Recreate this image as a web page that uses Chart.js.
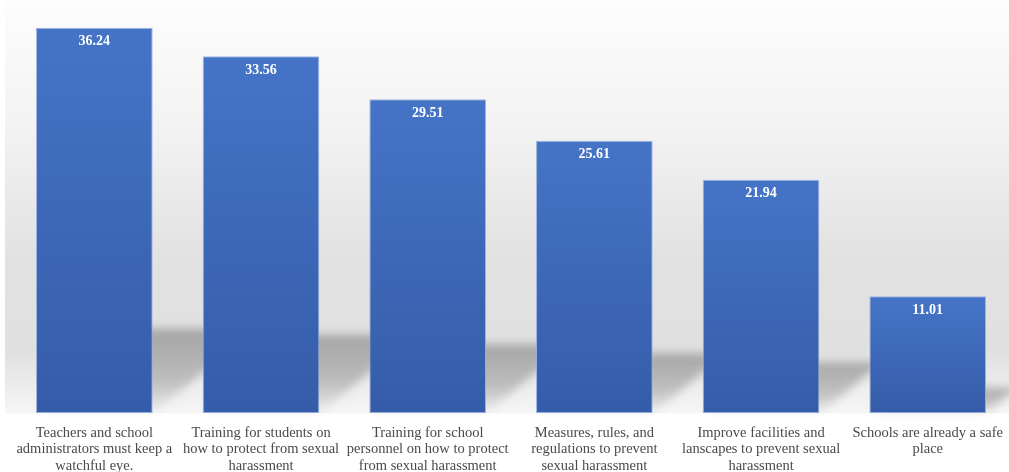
<!DOCTYPE html>
<html>
<head>
<meta charset="utf-8">
<script src="https://cdn.jsdelivr.net/npm/chart.js@4"></script>
<style>
  html, body { margin: 0; padding: 0; background: #fff; overflow: hidden; }
  #wrap { position: absolute; left: 0; top: 0; width: 1015px; height: 486px; }
</style>
</head>
<body>
<div id="wrap"><canvas id="myChart"></canvas></div>
<script>
const categories = [
  "Teachers and school administrators must keep a watchful eye.",
  "Training for students on how to protect from sexual harassment",
  "Training for school personnel on how to protect from sexual harassment",
  "Measures, rules, and regulations to prevent sexual harassment",
  "Improve facilities and lanscapes to prevent sexual harassment",
  "Schools are already a safe place",
];
const values = [36.24, 33.56, 29.51, 25.61, 21.94, 11.01];
const tickLabels = [
  ["Teachers and school", "administrators must keep a", "watchful eye."],
  ["Training for students on", "how to protect from sexual", "harassment"],
  ["Training for school", "personnel on how to protect", "from sexual harassment"],
  ["Measures, rules, and", "regulations to prevent", "sexual harassment"],
  ["Improve facilities and", "lanscapes to prevent sexual", "harassment"],
  ["Schools are already a safe", "place"],
];

const canvasElement = document.getElementById("myChart");

// bar fill, lighter at the top of each bar
const barFill = (context) => {
  const chart = context.chart;
  const area = chart.chartArea;
  if (!area || context.dataIndex === undefined) return "#4472c4";
  const top = chart.scales.y.getPixelForValue(values[context.dataIndex]);
  const g = chart.ctx.createLinearGradient(0, top, 0, area.bottom);
  g.addColorStop(0, "#4574c7");
  g.addColorStop(1, "#355ca8");
  return g;
};

// grey backdrop + slanted floor shadows
const backdrop = {
  id: "backdrop",
  beforeDatasetsDraw(chart) {
    const { ctx, chartArea } = chart;
    ctx.save();
    const bg = ctx.createLinearGradient(0, 0, 0, chartArea.bottom);
    bg.addColorStop(0, "#fdfdfd");
    bg.addColorStop(0.3, "#f3f3f3");
    bg.addColorStop(0.62, "#e2e2e2");
    bg.addColorStop(0.85, "#e0e0e0");
    bg.addColorStop(1, "#f6f6f6");
    ctx.fillStyle = bg;
    ctx.fillRect(5, 0, chart.width, chartArea.bottom);

    ctx.filter = "blur(4px)";
    chart.getDatasetMeta(0).data.forEach((bar) => {
      const xl = bar.x - bar.width / 2;
      const xr = bar.x + bar.width / 2;
      const h = bar.base - bar.y;
      const sh = h * 0.22;
      const dx = h * 0.27;
      const g = ctx.createLinearGradient(0, bar.base - sh, 0, bar.base);
      g.addColorStop(0, "rgba(110,110,110,0.5)");
      g.addColorStop(0.6, "rgba(110,110,110,0.36)");
      g.addColorStop(1, "rgba(110,110,110,0.04)");
      ctx.fillStyle = g;
      ctx.beginPath();
      ctx.moveTo(xl, bar.base);
      ctx.lineTo(xr, bar.base);
      ctx.lineTo(xr + dx, bar.base - sh);
      ctx.lineTo(xl + dx, bar.base - sh);
      ctx.closePath();
      ctx.fill();
    });
    ctx.restore();
  },
  afterDatasetsDraw(chart) {
    const { ctx } = chart;
    ctx.save();
    ctx.fillStyle = "#ffffff";
    ctx.font = "bold 14px 'Liberation Serif'";
    ctx.textAlign = "center";
    ctx.textBaseline = "middle";
    chart.getDatasetMeta(0).data.forEach((bar, i) => {
      ctx.fillText(values[i].toFixed(2), bar.x, bar.y + 14);
    });
    ctx.restore();
  },
};

const config = {
  type: "bar",
  data: {
    labels: tickLabels,
    datasets: [
      {
        label: "Responses",
        data: values,
        backgroundColor: barFill,
        borderColor: "rgba(150,175,225,0.9)",
        borderWidth: 1,
        borderSkipped: false,
        barPercentage: 0.7,
        categoryPercentage: 1,
      },
    ],
  },
  options: {
    responsive: true,
    maintainAspectRatio: false,
    animation: false,
    layout: { padding: { top: 9, left: 11, right: 0, bottom: 0 } },
    scales: {
      y: { display: false, min: 0, max: 38 },
      x: {
        grid: { display: false, drawTicks: false },
        border: { display: false },
        ticks: {
          color: "#4a4a4a",
          padding: 12,
          autoSkip: false,
          maxRotation: 0,
          font: { family: "'Liberation Serif'", size: 14.5, lineHeight: 1.12 },
        },
      },
    },
    plugins: {
      legend: { display: false },
      tooltip: { enabled: false },
    },
  },
  plugins: [backdrop],
};

const myChart = new Chart(canvasElement, config);
</script>
</body>
</html>
